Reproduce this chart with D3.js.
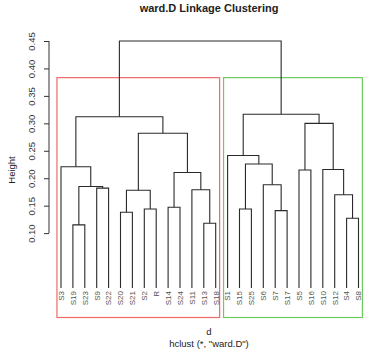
<!DOCTYPE html>
<html>
<head>
<meta charset="utf-8">
<script src="https://cdn.jsdelivr.net/npm/d3@7"></script>
<style>
  body { margin: 0; background: #fff; }
  svg { display: block; font-family: "Liberation Sans", Arial, sans-serif; }
</style>
</head>
<body>
<div id="chart"></div>
<script>
// порядок листьев слева направо
const leafLabels = ["S3", "S19", "S23", "S9", "S22", "S20", "S21", "S2", "R", "S14", "S24", "S11", "S13",
    "S18", "S1", "S15", "S25", "S6", "S7", "S17", "S5", "S16", "S10", "S12", "S4", "S8"];

// слияния: строка = лист, число = номер предыдущего слияния (с 1)
const mergePairs = [
    ["S19", "S23"], ["S13", "S18"], ["S4", "S8"], ["S20", "S21"], ["S7", "S17"],
    ["S2", "R"], ["S15", "S25"], ["S14", "S24"], ["S12", 3], ["S11", 2],
    [4, 6], ["S9", "S22"], [1, 12], ["S6", 5], ["S5", "S16"],
    ["S10", 9], [8, 10], ["S3", 13], [7, 14], ["S1", 19],
    [11, 17], [15, 16], [18, 21], [20, 22], [23, 24]
];
const mergeHeights = [
    0.115, 0.118, 0.127, 0.138, 0.141,
    0.144, 0.144, 0.147, 0.170, 0.179,
    0.178, 0.182, 0.185, 0.188, 0.215,
    0.216, 0.2105, 0.221, 0.226, 0.2415,
    0.282, 0.300, 0.312, 0.3165, 0.450
];

const yTicks = [0.10, 0.15, 0.20, 0.25, 0.30, 0.35, 0.40, 0.45];
const clusterSizes = [14, 12];
const clusterColors = ["#F06A6A", "#6CCB5F"];

const width = 372, height = 353;
const svg = d3.select("#chart").append("svg")
    .attr("width", width)
    .attr("height", height);

const x = d3.scaleLinear().domain([0, leafLabels.length - 1]).range([61, 358.5]);
const y = d3.scaleLinear().domain([0, 0.45]).range([288, 41]);
const plotBottom = 317.5;

// координаты узлов
const nodePos = (ref) => {
    if (typeof ref === "string") {
        return { x: x(leafLabels.indexOf(ref)), y: y(0) };
    }
    return mergeNodes[ref - 1];
};
const mergeNodes = [];
mergePairs.forEach((pair, i) => {
    const a = nodePos(pair[0]);
    const b = nodePos(pair[1]);
    mergeNodes.push({ a, b, x: (a.x + b.x) / 2, y: y(mergeHeights[i]) });
});

// прямоугольники кластеров (под ветвями)
const cutHeight = (mergeHeights[mergeHeights.length - 1] + mergeHeights[mergeHeights.length - 2]) / 2;
let start = 0;
clusterSizes.forEach((n, k) => {
    const x0 = x(start - 0.34);
    const x1 = x(start + n - 1 + 0.33);
    svg.append("rect")
        .attr("x", x0)
        .attr("y", y(cutHeight))
        .attr("width", x1 - x0)
        .attr("height", plotBottom - y(cutHeight))
        .attr("fill", "none")
        .attr("stroke", clusterColors[k])
        .attr("stroke-width", 1.2);
    start += n;
});

// ветви дендрограммы
svg.append("g")
    .selectAll("path")
    .data(mergeNodes)
    .enter().append("path")
    .attr("d", d => `M${d.a.x},${d.a.y}V${d.y}H${d.b.x}V${d.b.y}`)
    .attr("fill", "none")
    .attr("stroke", "#2a2a2a")
    .attr("stroke-width", 1.1);

// подписи листьев
svg.append("g")
    .selectAll("text")
    .data(leafLabels)
    .enter().append("text")
    .attr("transform", (d, i) => `translate(${x(i) + 2.8},${y(0) + 3}) rotate(-90)`)
    .attr("text-anchor", "end")
    .style("font-size", "8px")
    .style("fill", "#555")
    .text(d => d);

// ось Y
const axis = svg.append("g")
    .attr("transform", "translate(49,0)")
    .call(d3.axisLeft(y).tickValues(yTicks).tickFormat(d3.format(".2f")).tickSize(5));
axis.select(".domain").remove();
axis.append("line")
    .attr("y1", y(yTicks[0]))
    .attr("y2", y(yTicks[yTicks.length - 1]))
    .attr("stroke", "#333");
axis.selectAll(".tick line").attr("stroke", "#333");
axis.selectAll(".tick text")
    .attr("x", 0)
    .attr("dy", 0)
    .attr("transform", "translate(-14,0) rotate(-90)")
    .attr("text-anchor", "middle")
    .style("font-size", "9.5px")
    .style("font-family", "\"Liberation Sans\", Arial, sans-serif")
    .attr("fill", "#333");

// заголовки
svg.append("text")
    .attr("x", 209).attr("y", 12)
    .attr("text-anchor", "middle")
    .style("font-size", "11px")
    .style("font-weight", "bold")
    .style("fill", "#222")
    .text("ward.D Linkage Clustering");

svg.append("text")
    .attr("transform", "translate(15,170) rotate(-90)")
    .attr("text-anchor", "middle")
    .style("font-size", "9.5px")
    .style("fill", "#222")
    .text("Height");

svg.append("text")
    .attr("x", 209).attr("y", 335)
    .attr("text-anchor", "middle")
    .style("font-size", "9.5px")
    .style("fill", "#222")
    .text("d");

svg.append("text")
    .attr("x", 209).attr("y", 347)
    .attr("text-anchor", "middle")
    .style("font-size", "9.5px")
    .style("fill", "#222")
    .text("hclust (*, \"ward.D\")");
</script>
</body>
</html>
